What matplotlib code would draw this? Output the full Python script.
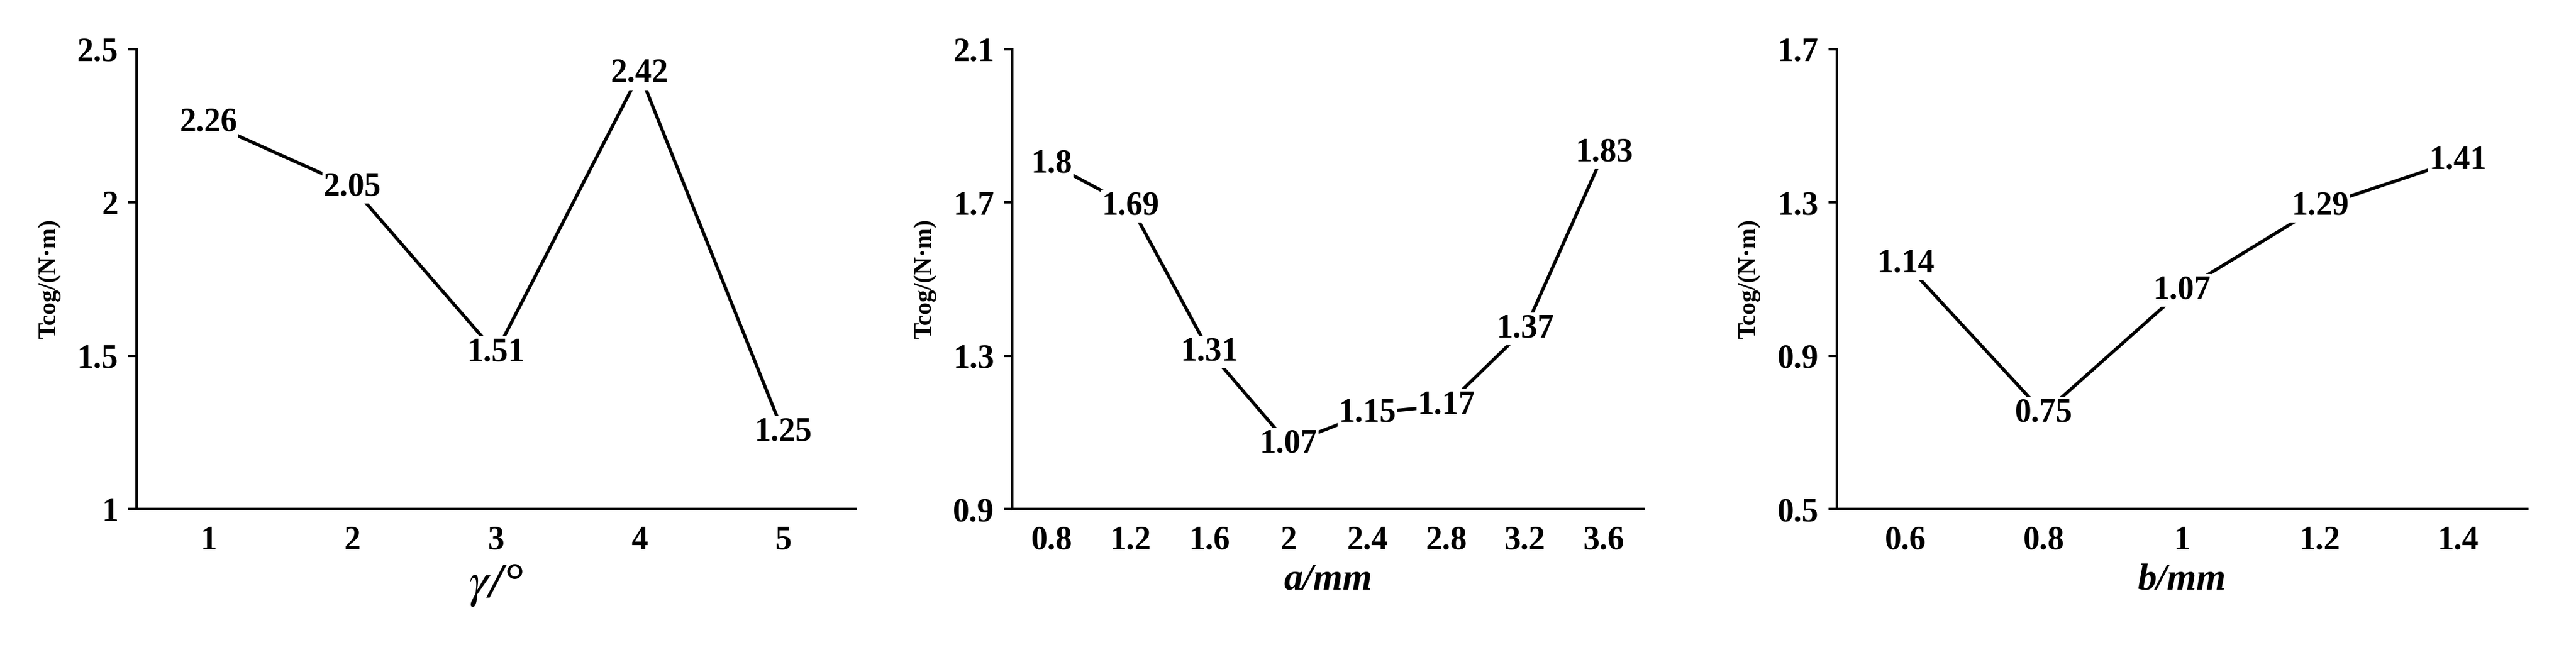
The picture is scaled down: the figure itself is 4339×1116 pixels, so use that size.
import matplotlib
matplotlib.use('Agg')
import matplotlib.pyplot as plt

gamma_x = ['1', '2', '3', '4', '5']
gamma_y = [2.26, 2.05, 1.51, 2.42, 1.25]
a_x = ['0.8', '1.2', '1.6', '2', '2.4', '2.8', '3.2', '3.6']
a_y = [1.8, 1.69, 1.31, 1.07, 1.15, 1.17, 1.37, 1.83]
b_x = ['0.6', '0.8', '1', '1.2', '1.4']
b_y = [1.14, 0.75, 1.07, 1.29, 1.41]

plt.rcParams['font.family'] = ['Liberation Serif', 'DejaVu Serif']
plt.rcParams['mathtext.fontset'] = 'stix'
fig = plt.figure(figsize=(43.39, 11.16), dpi=100)

panels = [
    (gamma_x, gamma_y, (1, 2.5), [1, 1.5, 2, 2.5], ['1', '1.5', '2', '2.5'], r'$\gamma$/°', [0.053, 0.231, 0.279, 0.695], 60),
    (a_x, a_y, (0.9, 2.1), [0.9, 1.3, 1.7, 2.1], ['0.9', '1.3', '1.7', '2.1'], 'a/mm', [0.393, 0.231, 0.245, 0.695], 46),
    (b_x, b_y, (0.5, 1.7), [0.5, 0.9, 1.3, 1.7], ['0.5', '0.9', '1.3', '1.7'], 'b/mm', [0.713, 0.231, 0.268, 0.695], 46),
]
for xs, ys, yl, yt, ytl, xlab, rect, xfs in panels:
    ax = fig.add_axes(rect)
    pos = list(range(len(xs)))
    ax.plot(pos, ys, color='black', lw=4)
    for p, v in zip(pos, ys):
        ax.text(p, v, f'{v:g}', ha='center', va='center', fontsize=40, fontweight='bold',
                bbox=dict(facecolor='white', edgecolor='none', pad=1))
    ax.set_xlim(-0.5, len(xs) - 0.5)
    ax.set_ylim(*yl)
    ax.set_yticks(yt)
    ax.set_yticklabels(ytl, fontsize=40, fontweight='bold')
    ax.set_xticks(pos)
    ax.set_xticklabels(xs, fontsize=40, fontweight='bold')
    ax.tick_params(axis='x', length=0, pad=20)
    ax.tick_params(axis='y', length=10, width=3, direction='out', pad=12)
    for s in ['top', 'right']:
        ax.spines[s].set_visible(False)
    for s in ['left', 'bottom']:
        ax.spines[s].set_linewidth(3)
    ax.set_ylabel('Tcog/(N·m)', fontsize=30, fontweight='bold', labelpad=20)
    ax.set_xlabel(xlab, fontsize=xfs, fontstyle='italic', fontweight='bold', labelpad=8)

fig.savefig('out.png', dpi=100)
